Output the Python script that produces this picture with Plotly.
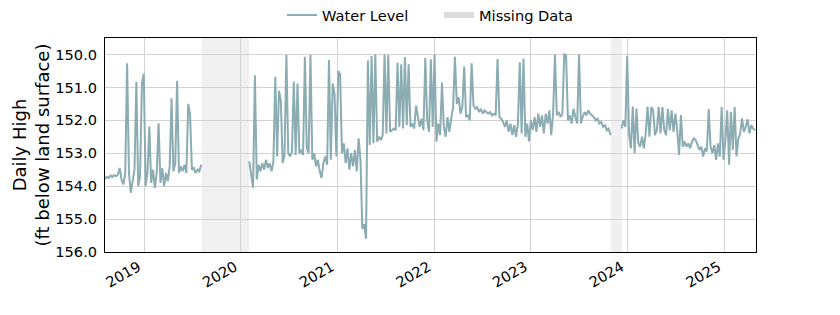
import pandas as pd
import plotly.graph_objects as go

# ---- data (weekly readings, ft below land surface) ----
step_days = 7

seg1_start = "2018-08-05"
seg1_values = [
    153.78, 153.72, 153.75, 153.68, 153.72, 153.66, 153.70, 153.65, 153.45, 153.80,
    153.95, 153.60, 150.27, 153.60, 154.20, 153.85, 153.50, 150.83, 154.00, 153.70,
    150.88, 150.58, 154.00, 153.60, 152.19, 153.90, 153.50, 154.05, 153.60, 152.09,
    153.90, 153.45, 154.00, 153.60, 153.85, 153.40, 151.33, 153.55, 153.30, 150.80,
    153.60, 153.40, 153.55, 153.35, 153.60, 151.50, 151.84, 153.50, 153.45, 153.60,
    153.50, 153.55, 153.35,
]

seg2_start = "2020-02-02"
seg2_values = [
    153.25, 153.60, 154.05, 150.63, 153.80, 153.35, 153.55, 153.30, 153.50, 153.20,  # 0-9
    153.45, 153.30, 153.55, 153.25, 150.68, 153.10, 151.10, 151.40, 153.30, 153.05,  # 10-19
    150.02, 153.00, 153.10, 152.95, 150.83, 153.05, 150.88, 153.00, 152.90, 153.05,  # 20-29
    150.07, 152.85, 153.00, 150.02, 153.20, 153.00, 153.40, 153.20, 153.55, 153.75,  # 30-39
    153.30, 153.10, 153.35, 150.17, 153.20, 150.88, 151.20, 153.10, 150.50, 150.60,  # 40-49
    153.00, 152.70, 153.30, 152.85, 153.50, 153.00, 153.40, 152.90, 153.55, 152.55,  # 50-59
    153.20, 155.30, 155.15, 155.60, 150.18, 152.75, 150.05, 152.70, 150.00, 152.65,  # 60-69
    152.50, 152.60, 152.45, 150.00, 152.40, 150.02, 152.35, 152.30, 152.25, 152.30,  # 70-79
    150.25, 152.20, 150.30, 152.25, 150.08, 152.15, 150.30, 152.20, 152.10, 152.25,  # 80-89
    151.55, 151.90, 152.20, 151.95, 152.30, 150.10, 152.00, 152.35, 150.15, 152.20,  # 90-99
    150.00, 152.65, 152.10, 152.45, 150.85, 152.20, 152.50, 151.90, 152.35, 151.95,  # 100-109
    151.60, 150.07, 151.50, 151.30, 151.80, 151.60, 150.37, 151.90, 151.85, 152.00,  # 110-119
    150.27, 151.55, 151.65, 151.60, 151.75, 151.65, 151.80, 151.70, 151.75, 151.80,  # 120-129
    151.75, 151.85, 151.80, 151.85, 150.14, 151.90, 151.95, 152.05, 152.20, 152.00,  # 130-139
    152.35, 152.10, 152.45, 152.15, 152.50, 152.10, 150.24, 152.40, 150.12, 152.50,  # 140-149
    152.10, 152.64, 152.00, 152.30, 151.90, 152.35, 151.80, 152.20, 151.85, 152.40,  # 150-159
    151.80, 152.10, 151.70, 152.45, 151.80, 150.00, 151.85, 151.75, 151.90, 151.80,  # 160-169
    150.00, 150.02, 152.00, 151.85, 152.10, 151.65, 151.90, 152.10, 150.00, 152.10,  # 170-179
    151.90, 151.75, 151.85, 151.70, 151.80, 151.85, 151.90, 152.00, 151.95, 152.10,  # 180-189
    152.05, 152.20, 152.15, 152.30, 152.25, 152.45,                                  # 190-195
]

seg3_start = "2023-12-10"
seg3_values = [
    152.25, 152.00, 152.20, 150.04, 152.40, 152.85, 151.58, 153.00, 151.64, 152.70,  # 0-9
    152.80, 152.50, 152.85, 152.40, 151.58, 152.50, 151.60, 151.69, 152.45, 152.30,  # 10-19
    151.60, 152.40, 151.60, 152.30, 152.45, 151.65, 152.30, 151.70, 152.35, 151.80,  # 20-29
    152.30, 153.05, 151.84, 152.80, 152.65, 152.80, 152.70, 152.85, 152.65, 152.55,  # 30-39
    152.60, 152.75, 152.90, 152.80, 153.10, 152.85, 152.95, 151.66, 152.80, 153.00,  # 40-49
    152.75, 153.20, 152.70, 153.10, 151.60, 153.20, 152.60, 151.70, 153.35, 151.75,  # 50-59
    152.90, 151.60, 153.10, 152.55, 152.40, 151.94, 152.35, 152.20, 151.97, 152.40,  # 60-69
    152.15, 152.25, 152.30,                                                          # 70-72
]

missing_start = ["2019-08-06", "2023-10-31"]
missing_end = ["2020-02-01", "2023-12-11"]

tick_years = ["2019", "2020", "2021", "2022", "2023", "2024", "2025"]
y_ticks = [150, 151, 152, 153, 154, 155, 156]

# ---- build series ----
xs, ys = [], []
for start, vals in [(seg1_start, seg1_values), (seg2_start, seg2_values), (seg3_start, seg3_values)]:
    d = pd.date_range(start, periods=len(vals), freq=f"{step_days}D")
    xs.extend(list(d))
    ys.extend(vals)
    xs.append(None)
    ys.append(None)

line_color = "#8aacb2"
font_family = "DejaVu Sans"
fs = 14.6

fig = go.Figure()
fig.add_trace(go.Scatter(
    x=xs, y=ys, mode="lines", name="Water Level",
    line=dict(color=line_color, width=2), connectgaps=False,
))
fig.add_trace(go.Scatter(
    x=[None], y=[None], mode="none", fill="toself", fillcolor="#dcdcdc",
    name="Missing Data",
))

for s, e in zip(missing_start, missing_end):
    fig.add_shape(type="rect", xref="x", yref="paper", x0=s, x1=e, y0=0, y1=1,
                  fillcolor="#f0f0f0", line=dict(width=0), layer="below")

fig.update_layout(
    width=840, height=315,
    margin=dict(l=105, r=84, t=38, b=63, autoexpand=False),
    paper_bgcolor="white", plot_bgcolor="white",
    font=dict(family=font_family, size=fs, color="black"),
    showlegend=True,
    legend=dict(orientation="h", xref="container", yref="container",
                x=282 / 840, xanchor="left", y=1 - 15 / 315, yanchor="middle",
                entrywidth=112, font=dict(size=fs), bgcolor="rgba(0,0,0,0)"),
)
fig.update_xaxes(
    range=["2018-08-05 12:00", "2025-04-30 18:00"],
    tickvals=[f"{y}-01-01" for y in tick_years], ticktext=tick_years,
    tickangle=-30, ticklabelshift=-6, showgrid=True, gridcolor="#d3d3d3", gridwidth=1,
    showline=True, linecolor="black", linewidth=1, mirror=True,
    ticks="", zeroline=False,
)
fig.update_yaxes(
    range=[156.0, 149.5], tickvals=y_ticks, tickformat=".1f",
    showgrid=True, gridcolor="#d3d3d3", gridwidth=1,
    showline=True, linecolor="black", linewidth=1, mirror=True,
    ticks="", ticklabelstandoff=4, zeroline=False,
    title=dict(text="Daily High<br>(ft below land surface)", standoff=0),
)

fig.write_html("out.html")
